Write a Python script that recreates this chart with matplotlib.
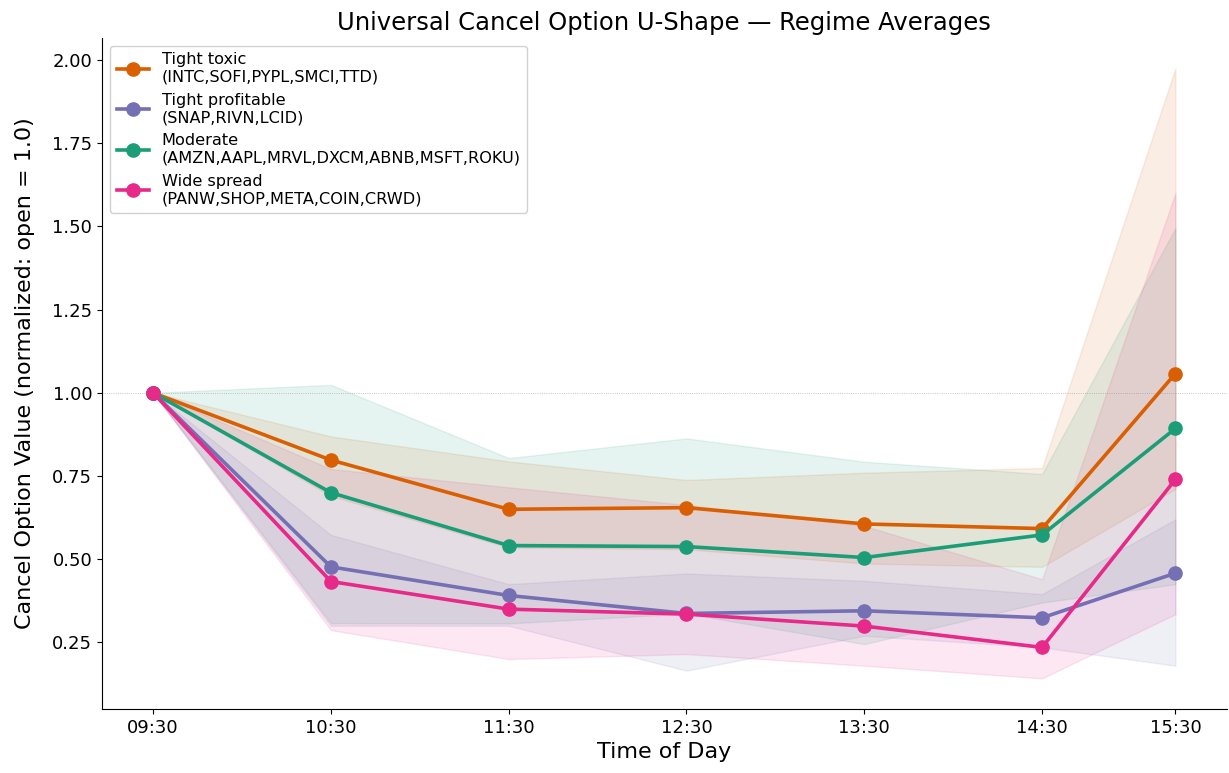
import numpy as np
import matplotlib
matplotlib.use("Agg")
import matplotlib.pyplot as plt

# hours after the open; last bin sits at 15:15 position but is labelled 15:30
hours = [0, 1, 2, 3, 4, 5, 5.75]
tick_labels = ["09:30", "10:30", "11:30", "12:30", "13:30", "14:30", "15:30"]

names = ["Tight toxic\n(INTC,SOFI,PYPL,SMCI,TTD)",
         "Tight profitable\n(SNAP,RIVN,LCID)",
         "Moderate\n(AMZN,AAPL,MRVL,DXCM,ABNB,MSFT,ROKU)",
         "Wide spread\n(PANW,SHOP,META,COIN,CRWD)"]
colors = ["#d95f02", "#7570b3", "#1b9e77", "#e7298a"]

toxic_mean = [1.00, 0.798, 0.650, 0.655, 0.606, 0.592, 1.058]
toxic_hi = [1.00, 0.869, 0.794, 0.738, 0.760, 0.774, 1.975]
toxic_lo = [1.00, 0.690, 0.535, 0.530, 0.487, 0.477, 0.711]

profit_mean = [1.00, 0.477, 0.391, 0.337, 0.345, 0.324, 0.458]
profit_hi = [1.00, 0.573, 0.425, 0.457, 0.435, 0.395, 0.620]
profit_lo = [1.00, 0.300, 0.300, 0.165, 0.270, 0.235, 0.180]

moderate_mean = [1.00, 0.700, 0.541, 0.538, 0.505, 0.573, 0.893]
moderate_hi = [1.00, 1.024, 0.804, 0.863, 0.793, 0.756, 1.495]
moderate_lo = [1.00, 0.308, 0.307, 0.337, 0.245, 0.370, 0.425]

wide_mean = [1.00, 0.433, 0.350, 0.335, 0.299, 0.235, 0.740]
wide_hi = [1.00, 0.771, 0.716, 0.663, 0.600, 0.440, 1.600]
wide_lo = [1.00, 0.287, 0.200, 0.215, 0.180, 0.142, 0.335]

means = [toxic_mean, profit_mean, moderate_mean, wide_mean]
his = [toxic_hi, profit_hi, moderate_hi, wide_hi]
los = [toxic_lo, profit_lo, moderate_lo, wide_lo]

fig = plt.figure(figsize=(12.29, 7.73), dpi=100)
ax = fig.add_axes([0.083, 0.083, 0.915, 0.868])

for lo, hi, c in zip(los, his, colors):
    ax.fill_between(hours, lo, hi, color=c, alpha=0.11, linewidth=1)

for m, c, n in zip(means, colors, names):
    ax.plot(hours, m, "-o", color=c, lw=2.6, ms=9.5, label=n)

ax.axhline(1.0, color="gray", ls=":", lw=0.6, alpha=0.6)

ax.set_xticks(hours)
ax.set_xticklabels(tick_labels)
ax.tick_params(labelsize=13)
ax.set_yticks([0.25, 0.5, 0.75, 1.0, 1.25, 1.5, 1.75, 2.0])
ax.set_xlabel("Time of Day", fontsize=16)
ax.set_ylabel("Cancel Option Value (normalized: open = 1.0)", fontsize=16, labelpad=12)
ax.set_title("Universal Cancel Option U-Shape — Regime Averages", fontsize=17.5)
ax.spines["top"].set_visible(False)
ax.spines["right"].set_visible(False)
ax.legend(loc="upper left", fontsize=11.6, framealpha=0.9)

plt.savefig("out.png", dpi=100)
